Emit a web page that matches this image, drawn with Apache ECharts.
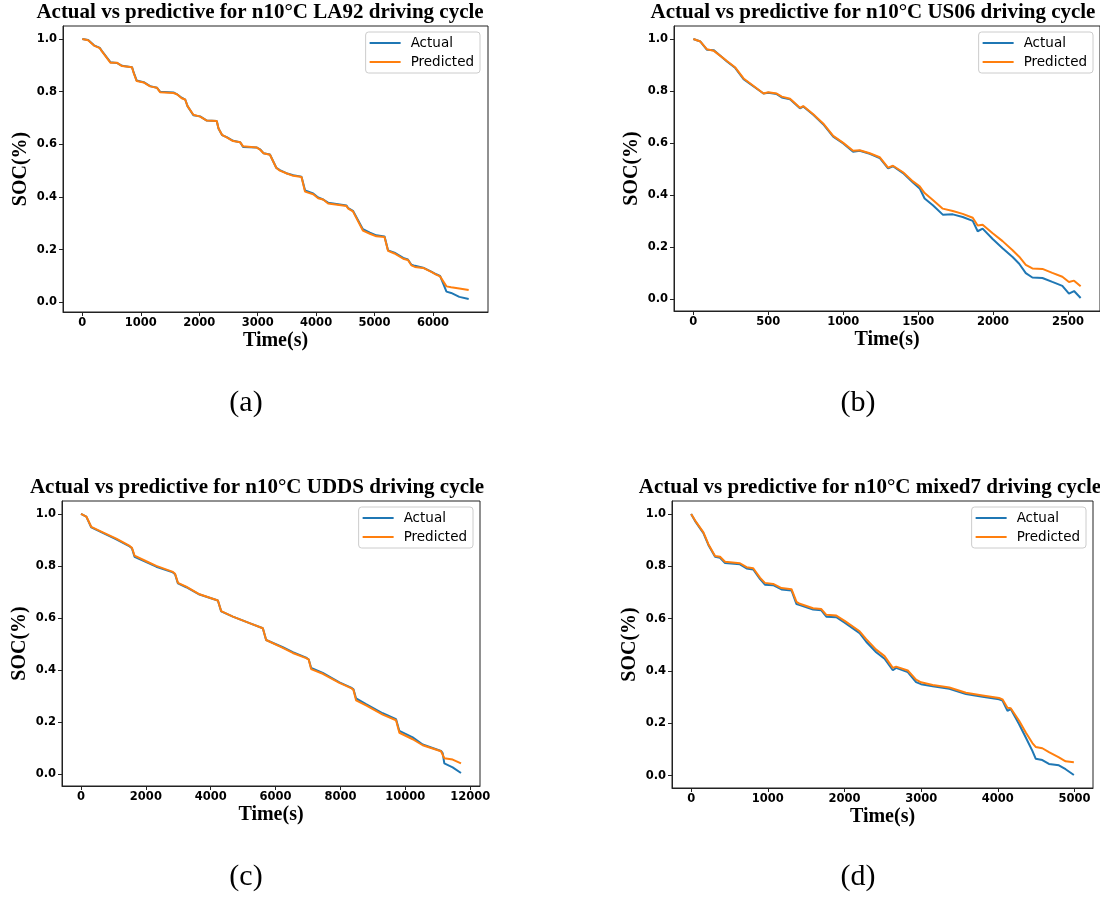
<!DOCTYPE html>
<html>
<head>
<meta charset="utf-8">
<script src="https://cdn.jsdelivr.net/npm/echarts@6/dist/echarts.min.js"></script>
<style>
html, body { margin: 0; padding: 0; background: #fff; }
#main { width: 1100px; height: 898px; }
</style>
</head>
<body>
<div id="main"></div>
<script>
// (a) LA92
var la92Time = [0, 100, 200, 300, 330, 480, 590, 680, 850, 880, 930, 1050, 1160, 1275, 1330, 1560, 1620, 1700, 1760, 1800,
  1900, 2015, 2130, 2300, 2330, 2390, 2470, 2580, 2700, 2750, 2980, 3040, 3100, 3210, 3320, 3380, 3490, 3610, 3750, 3810,
  3950, 4035, 4120, 4205, 4235, 4520, 4550, 4630, 4660, 4800, 4920, 5030, 5170, 5230, 5340, 5490, 5570, 5630, 5690, 5830,
  5970, 6055, 6120, 6230, 6310, 6450, 6610];
var la92Actual = [1.0, 0.996, 0.976, 0.966, 0.956, 0.912, 0.909, 0.898, 0.893, 0.872, 0.842, 0.836, 0.821, 0.815, 0.8, 0.797, 0.79, 0.777, 0.77, 0.745,
  0.71, 0.706, 0.69, 0.688, 0.66, 0.635, 0.627, 0.613, 0.608, 0.59, 0.588, 0.581, 0.566, 0.561, 0.51, 0.502, 0.49, 0.482, 0.477, 0.425,
  0.413, 0.398, 0.39, 0.378, 0.373, 0.367, 0.357, 0.347, 0.34, 0.277, 0.264, 0.254, 0.25, 0.197, 0.188, 0.168, 0.162, 0.142, 0.138, 0.131,
  0.116, 0.106, 0.1, 0.04, 0.035, 0.02, 0.012];
var la92Pred = [1.0, 0.995, 0.975, 0.965, 0.955, 0.91, 0.91, 0.897, 0.893, 0.87, 0.84, 0.835, 0.82, 0.815, 0.798, 0.795, 0.79, 0.775, 0.77, 0.745,
  0.712, 0.705, 0.69, 0.688, 0.66, 0.636, 0.626, 0.612, 0.608, 0.592, 0.588, 0.58, 0.566, 0.56, 0.51, 0.5, 0.49, 0.48, 0.476, 0.42,
  0.41, 0.395, 0.39, 0.375, 0.37, 0.365, 0.355, 0.345, 0.338, 0.272, 0.26, 0.25, 0.248, 0.195, 0.185, 0.165, 0.16, 0.14, 0.134, 0.13,
  0.115, 0.105, 0.098, 0.06, 0.057, 0.052, 0.046];

// (b) US06
var us06Time = [0, 47, 91, 135, 180, 224, 280, 335, 400, 468, 500, 556, 590, 645, 711, 733, 800, 866, 933, 1000,
  1066, 1110, 1177, 1243, 1299, 1332, 1399, 1465, 1510, 1543, 1598, 1664, 1731, 1797, 1864, 1897, 1930, 1997, 2063, 2130,
  2174, 2218, 2262, 2329, 2395, 2462, 2506, 2540, 2584];
var us06Actual = [1.0, 0.99, 0.958, 0.957, 0.935, 0.913, 0.888, 0.845, 0.818, 0.79, 0.793, 0.788, 0.775, 0.768, 0.733, 0.74, 0.708, 0.672, 0.624, 0.598,
  0.566, 0.57, 0.558, 0.542, 0.502, 0.51, 0.484, 0.448, 0.425, 0.386, 0.36, 0.324, 0.325, 0.315, 0.3, 0.26, 0.27, 0.23, 0.195, 0.161,
  0.135, 0.099, 0.082, 0.08, 0.065, 0.05, 0.02, 0.03, 0.003];
var us06Pred = [1.0, 0.99, 0.96, 0.955, 0.935, 0.915, 0.89, 0.848, 0.82, 0.79, 0.795, 0.79, 0.778, 0.77, 0.735, 0.742, 0.71, 0.675, 0.627, 0.6,
  0.57, 0.572, 0.56, 0.545, 0.505, 0.512, 0.487, 0.452, 0.433, 0.407, 0.38, 0.347, 0.338, 0.327, 0.312, 0.282, 0.285, 0.252, 0.222, 0.187,
  0.162, 0.131, 0.117, 0.115, 0.1, 0.085, 0.065, 0.07, 0.048];

// (c) UDDS
var uddsTime = [0, 164, 215, 318, 575, 1088, 1500, 1570, 1650, 2012, 2320, 2833, 2900, 2988, 3244, 3655, 4220, 4280, 4322, 4682,
  5195, 5606, 5650, 5708, 6222, 6530, 6940, 7020, 7094, 7454, 7967, 8326, 8400, 8480, 8788, 9302, 9713, 9760, 9815, 10226,
  10534, 11099, 11150, 11201, 11458, 11715];
var uddsActual = [1.0, 0.99, 0.985, 0.948, 0.933, 0.902, 0.875, 0.868, 0.835, 0.815, 0.797, 0.775, 0.768, 0.733, 0.718, 0.69, 0.667, 0.66, 0.625, 0.605,
  0.58, 0.56, 0.553, 0.515, 0.487, 0.468, 0.447, 0.44, 0.408, 0.388, 0.352, 0.332, 0.325, 0.29, 0.268, 0.233, 0.21, 0.203, 0.165, 0.14,
  0.113, 0.088, 0.08, 0.04, 0.025, 0.003];
var uddsPred = [1.0, 0.99, 0.985, 0.95, 0.935, 0.905, 0.877, 0.87, 0.84, 0.818, 0.8, 0.777, 0.77, 0.735, 0.72, 0.691, 0.667, 0.66, 0.626, 0.605,
  0.58, 0.56, 0.553, 0.515, 0.485, 0.465, 0.445, 0.44, 0.403, 0.385, 0.35, 0.33, 0.323, 0.283, 0.263, 0.228, 0.206, 0.2, 0.158, 0.133,
  0.11, 0.087, 0.08, 0.06, 0.055, 0.04];

// (d) mixed7
var mixTime = [0, 52, 160, 225, 312, 377, 442, 637, 723, 810, 897, 962, 1070, 1178, 1309, 1374, 1417, 1590, 1698, 1763,
  1893, 2002, 2197, 2283, 2413, 2522, 2630, 2673, 2825, 2933, 2998, 3150, 3367, 3583, 3800, 4016, 4060, 4125, 4168, 4277,
  4364, 4450, 4493, 4580, 4666, 4796, 4883, 4991];
var mixActual = [1.0, 0.973, 0.927, 0.882, 0.837, 0.833, 0.813, 0.808, 0.792, 0.788, 0.752, 0.73, 0.728, 0.712, 0.708, 0.656, 0.652, 0.635, 0.632, 0.608,
  0.606, 0.585, 0.545, 0.512, 0.472, 0.447, 0.403, 0.412, 0.396, 0.358, 0.35, 0.342, 0.332, 0.312, 0.302, 0.292, 0.287, 0.248, 0.255, 0.197,
  0.146, 0.095, 0.065, 0.06, 0.045, 0.04, 0.025, 0.003];
var mixPred = [1.0, 0.975, 0.93, 0.885, 0.84, 0.837, 0.818, 0.812, 0.797, 0.793, 0.757, 0.737, 0.733, 0.717, 0.713, 0.664, 0.657, 0.64, 0.637, 0.615,
  0.612, 0.592, 0.552, 0.522, 0.482, 0.457, 0.412, 0.417, 0.402, 0.367, 0.357, 0.347, 0.337, 0.317, 0.307, 0.297, 0.292, 0.26, 0.258, 0.21,
  0.165, 0.125, 0.11, 0.105, 0.09, 0.07, 0.055, 0.052];

var seriesNames = ['Actual', 'Predicted'];
var seriesColors = ['#1f77b4', '#ff7f0e'];

var myChart = echarts.init(document.getElementById('main'));

var panels = [
  {title: 'Actual vs predictive for n10°C LA92 driving cycle', caption: '(a)',
   time: la92Time, actual: la92Actual, pred: la92Pred, split: 5,
   grid: {left: 63, top: 26, width: 425, height: 286}, legend: {right: 620, top: 32},
   titleX: 260, titleY: 13, capX: 246, capY: 403},
  {title: 'Actual vs predictive for n10°C US06 driving cycle', caption: '(b)',
   time: us06Time, actual: us06Actual, pred: us06Pred, split: 5,
   grid: {left: 674, top: 26, width: 427, height: 285}, legend: {right: 7, top: 32},
   titleX: 873, titleY: 13, capX: 858, capY: 403},
  {title: 'Actual vs predictive for n10°C UDDS driving cycle', caption: '(c)',
   time: uddsTime, actual: uddsActual, pred: uddsPred, split: 6,
   grid: {left: 62, top: 501, width: 418, height: 285}, legend: {right: 627, top: 507},
   titleX: 257, titleY: 488, capX: 246, capY: 877},
  {title: 'Actual vs predictive for n10°C mixed7 driving cycle', caption: '(d)',
   time: mixTime, actual: mixActual, pred: mixPred, split: 5,
   grid: {left: 672, top: 501, width: 421, height: 287}, legend: {right: 14, top: 507},
   titleX: 870, titleY: 488, capX: 858, capY: 877}
];

function toPairs(t, v) {
  return t.map(function (x, i) { return [x, v[i]]; });
}
// matplotlib style 5% margins
function padMin(v) { return v.min - 0.05 * (v.max - v.min); }
function padMax(v) { return v.max + 0.05 * (v.max - v.min); }

var axisColor = '#222';
var tickFont = {color: '#000', fontFamily: 'DejaVu Sans', fontWeight: 'bold', fontSize: 11.5};
var nameFont = {color: '#000', fontFamily: 'Liberation Serif', fontWeight: 'bold', fontSize: 20};

var grids = [], xAxes = [], yAxes = [], legends = [], series = [], graphics = [];

panels.forEach(function (p, i) {
  grids.push(Object.assign({show: true, borderColor: axisColor, borderWidth: 1, backgroundColor: '#fff'}, p.grid));
  xAxes.push({
    type: 'value', gridIndex: i, min: padMin, max: padMax, splitNumber: p.split,
    name: 'Time(s)', nameLocation: 'middle', nameGap: 19, nameTextStyle: nameFont,
    axisLine: {show: true, onZero: false, lineStyle: {color: axisColor, width: 1}},
    axisTick: {show: true, inside: false, length: 4, lineStyle: {color: axisColor}},
    axisLabel: Object.assign({margin: 5, showMinLabel: false, showMaxLabel: false,
      formatter: function (v) { return String(v); }}, tickFont),
    splitLine: {show: false}
  });
  yAxes.push({
    type: 'value', gridIndex: i, min: padMin, max: padMax, splitNumber: 5,
    name: 'SOC(%)', nameLocation: 'middle', nameGap: 32, nameTextStyle: nameFont,
    axisLine: {show: true, onZero: false, lineStyle: {color: axisColor, width: 1}},
    axisTick: {show: true, inside: false, length: 4, lineStyle: {color: axisColor}},
    axisLabel: Object.assign({margin: 6, showMinLabel: false, showMaxLabel: false,
      formatter: function (v) { return v.toFixed(1); }}, tickFont),
    splitLine: {show: false}
  });
  legends.push({
    orient: 'vertical', right: p.legend.right, top: p.legend.top,
    data: seriesNames, icon: 'rect', itemWidth: 31, itemHeight: 2, itemGap: 5,
    padding: [4, 6, 4, 4], borderColor: '#ccc', borderWidth: 1, borderRadius: 3,
    backgroundColor: 'rgba(255,255,255,0.8)',
    textStyle: {fontFamily: 'DejaVu Sans', fontSize: 13.5, color: '#000', padding: [0, 0, 0, 5]}
  });
  [p.actual, p.pred].forEach(function (vals, k) {
    series.push({
      name: seriesNames[k], type: 'line', xAxisIndex: i, yAxisIndex: i,
      data: toPairs(p.time, vals), showSymbol: false, symbol: 'none',
      lineStyle: {color: seriesColors[k], width: 2}, itemStyle: {color: seriesColors[k]},
      animation: false, z: 2 + k
    });
  });
  graphics.push({
    type: 'text', x: p.titleX, y: p.titleY,
    style: {text: p.title, fill: '#000', font: 'bold 21px "Liberation Serif"',
      textAlign: 'center', textVerticalAlign: 'middle', align: 'center', verticalAlign: 'middle'}
  });
  graphics.push({
    type: 'text', x: p.capX, y: p.capY,
    style: {text: p.caption, fill: '#000', font: '30px "Liberation Serif"',
      textAlign: 'center', textVerticalAlign: 'middle', align: 'center', verticalAlign: 'middle'}
  });
});

myChart.setOption(option = {
  backgroundColor: '#fff',
  animation: false,
  grid: grids,
  xAxis: xAxes,
  yAxis: yAxes,
  legend: legends,
  series: series,
  graphic: graphics
});
</script>
</body>
</html>
